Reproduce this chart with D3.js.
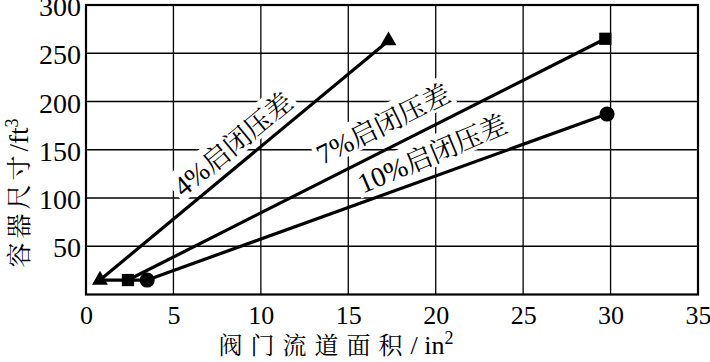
<!DOCTYPE html>
<html>
<head>
<meta charset="utf-8">
<script src="https://cdn.jsdelivr.net/npm/d3@7"></script>
<style>
  body { margin: 0; background: #fff; }
  svg .tick text, svg .num { font-family: 'Times New Roman', 'Liberation Serif'; }
</style>
</head>
<body>
<script>
// 图表尺寸与边距
const width = 710;
const height = 362;
const margin = {top: 5, right: 12, bottom: 67.5, left: 86};
const latinFont = "Times New Roman";
const cjkFont = "Noto Serif CJK SC";

// 数据：三条启闭压差曲线（x: 阀门流道面积 in², y: 容器尺寸 ft³）
const seriesNames = ["4%启闭压差", "7%启闭压差", "10%启闭压差"];
const seriesX = [[0.8, 17.3], [2.4, 29.7], [3.5, 29.8]];
const seriesY = [[15, 263], [15, 265], [15, 187]];
const markers = ["triangle", "square", "circle"];

// 标注位置（数据坐标）和角度
const labelX = [8.4, 17.0, 19.8];
const labelY = [156, 177, 146];
const labelAngle = [-39.6, -26.5, -23];

const xTicks = [0, 5, 10, 15, 20, 25, 30, 35];
const yTicks = [50, 100, 150, 200, 250, 300];

// 字体：属性和样式都设置
const font = (sel, fam) => sel.attr("font-family", fam).style("font-family", `'${fam}'`);

const x = d3.scaleLinear()
  .domain([0, 35])
  .range([margin.left, width - margin.right]);

const y = d3.scaleLinear()
  .domain([0, 300])
  .range([height - margin.bottom, margin.top]);

const svg = d3.select("body").append("svg")
  .attr("width", width)
  .attr("height", height);

// 网格线
svg.append("g")
  .selectAll("line")
  .data(xTicks.filter(d => d > 0 && d < 35))
  .join("line")
  .attr("x1", d => x(d)).attr("x2", d => x(d))
  .attr("y1", y(0)).attr("y2", y(300))
  .attr("stroke", "#000").attr("stroke-width", 1.3);

svg.append("g")
  .selectAll("line")
  .data(yTicks.filter(d => d < 300))
  .join("line")
  .attr("y1", d => y(d)).attr("y2", d => y(d))
  .attr("x1", x(0)).attr("x2", x(35))
  .attr("stroke", "#000").attr("stroke-width", 1.3);

// 坐标轴
const xAxis = g => g
  .attr("transform", `translate(0,${y(0)})`)
  .call(d3.axisBottom(x).tickValues(xTicks).tickSize(0).tickPadding(11))
  .call(g => g.select(".domain").remove())
  .call(g => g.selectAll("text").attr("font-size", 26).attr("fill", "#000").call(font, latinFont));

const yAxis = g => g
  .attr("transform", `translate(${x(0)},0)`)
  .call(d3.axisLeft(y).tickValues(yTicks).tickSize(0).tickPadding(5))
  .call(g => g.select(".domain").remove())
  .call(g => g.selectAll("text").attr("font-size", 28).attr("dy", "0.38em").attr("fill", "#000").call(font, latinFont));

svg.append("g").call(xAxis).call(font, latinFont);
svg.append("g").call(yAxis).call(font, latinFont);

// 外框
svg.append("rect")
  .attr("x", x(0)).attr("y", y(300))
  .attr("width", x(35) - x(0)).attr("height", y(0) - y(300))
  .attr("fill", "none").attr("stroke", "#000").attr("stroke-width", 2.2);

// 标注（白底遮挡网格线）
const labels = svg.append("g");
seriesNames.forEach((name, i) => {
  const g = labels.append("g")
    .attr("transform", `translate(${x(labelX[i])},${y(labelY[i])}) rotate(${labelAngle[i]})`);
  const t = g.append("text")
    .attr("text-anchor", "middle")
    .attr("dy", "0.35em")
    .attr("font-size", 28)
    .call(font, latinFont);
  const m = name.match(/^([\d%]+)(.*)$/);
  t.append("tspan").attr("class", "num").call(font, latinFont).text(m[1]);
  t.append("tspan").call(font, cjkFont).attr("font-size", 27).text(m[2]);
  const b = t.node().getBBox();
  g.insert("rect", "text")
    .attr("x", b.x - 3).attr("y", b.y + 4)
    .attr("width", b.width + 6).attr("height", b.height - 8)
    .attr("fill", "#fff");
});

// 折线
const line = d3.line()
  .x(d => x(d[0]))
  .y(d => y(d[1]));

seriesNames.forEach((name, i) => {
  const pts = seriesX[i].map((v, j) => [v, seriesY[i][j]]);
  svg.append("path")
    .datum(pts)
    .attr("fill", "none")
    .attr("stroke", "#000")
    .attr("stroke-width", 3.2)
    .attr("d", line);
});

// 起点之间的水平连线
svg.append("path")
  .datum(seriesX.map((s, i) => [s[0], seriesY[i][0]]))
  .attr("fill", "none")
  .attr("stroke", "#000")
  .attr("stroke-width", 3.2)
  .attr("d", line);

// 标记点
const symbolType = {triangle: d3.symbolTriangle, square: d3.symbolSquare, circle: d3.symbolCircle};
const symbolSize = {triangle: 110, square: 150, circle: 180};
seriesNames.forEach((name, i) => {
  const pts = seriesX[i].map((v, j) => [v, seriesY[i][j]]);
  svg.append("g")
    .selectAll("path")
    .data(pts)
    .join("path")
    .attr("transform", d => `translate(${x(d[0])},${y(d[1])})`)
    .attr("d", d3.symbol().type(symbolType[markers[i]]).size(symbolSize[markers[i]]))
    .attr("fill", "#000");
});

// 轴标题
const xTitle = svg.append("text")
  .attr("x", 336)
  .attr("y", 354)
  .attr("text-anchor", "middle")
  .attr("font-size", 24)
  .call(font, cjkFont);
xTitle.append("tspan").call(font, cjkFont).attr("letter-spacing", 8).text("阀门流道面积");
xTitle.append("tspan").call(font, latinFont).attr("font-size", 26).text("/ in");
xTitle.append("tspan").call(font, latinFont).attr("dy", -10).attr("font-size", 18).text("2");

const yTitle = svg.append("text")
  .attr("transform", "translate(28,193) rotate(-90)")
  .attr("text-anchor", "middle")
  .attr("font-size", 25)
  .call(font, cjkFont);
yTitle.append("tspan").call(font, cjkFont).attr("letter-spacing", 4).text("容器尺寸");
yTitle.append("tspan").call(font, latinFont).attr("font-size", 27).text("/ft");
yTitle.append("tspan").call(font, latinFont).attr("dy", -10).attr("font-size", 18).text("3");

svg.node();
</script>
</body>
</html>
